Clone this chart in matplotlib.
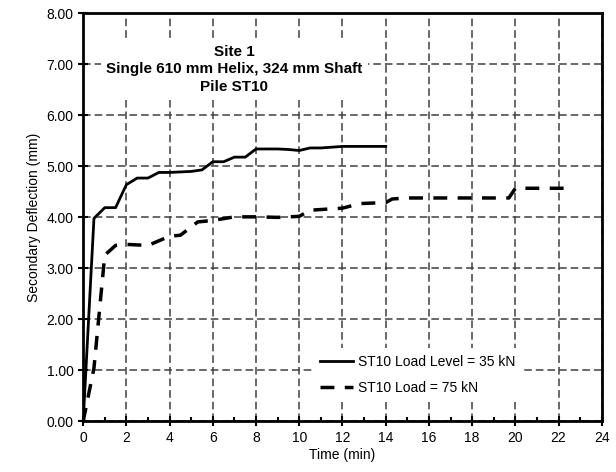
import matplotlib
matplotlib.use("Agg")
import matplotlib.pyplot as plt
from matplotlib.ticker import MultipleLocator, FormatStrFormatter

plt.rcParams['font.family'] = ['Liberation Sans', 'DejaVu Sans']

# solid series: ST10 load level = 35 kN
t35 = [0, 0.5, 1, 1.5, 2, 2.5, 3, 3.5, 4, 5, 5.5, 6, 6.5, 7, 7.5, 8, 9, 9.5, 10, 10.5, 11, 12, 13, 14]
d35 = [0, 3.98, 4.19, 4.19, 4.64, 4.77, 4.77, 4.88, 4.88, 4.90, 4.93, 5.09, 5.09, 5.18, 5.18,
       5.34, 5.34, 5.33, 5.31, 5.36, 5.36, 5.39, 5.39, 5.39]

# dashed series: ST10 load = 75 kN
t75 = [0, 0.5, 1, 1.5, 2, 3, 4, 4.5, 5.3, 6, 7, 8, 9, 10, 10.5, 12, 12.8, 14, 14.3, 15, 16, 17,
       18, 19, 19.7, 20, 21, 22, 22.7]
d75 = [0, 1.05, 3.26, 3.45, 3.47, 3.45, 3.63, 3.65, 3.91, 3.94, 4.01, 4.01, 4.0, 4.02, 4.14, 4.18,
       4.27, 4.29, 4.36, 4.38, 4.38, 4.38, 4.38, 4.38, 4.38, 4.57, 4.57, 4.57, 4.57]

fig = plt.figure(figsize=(6.16, 4.72), dpi=100)
ax = fig.add_axes([0.135, 0.107, 0.842, 0.865])

ax.plot(t35, d35, color='black', lw=2, label='ST10 Load Level = 35 kN', zorder=4)
ax.plot(t75, d75, color='black', lw=2.5, dashes=(4, 3), label='ST10 Load = 75 kN', zorder=4)

ax.set_xlim(0, 24)
ax.set_ylim(0, 8)
ax.xaxis.set_major_locator(MultipleLocator(2))
ax.xaxis.set_minor_locator(MultipleLocator(1))
ax.yaxis.set_major_locator(MultipleLocator(1))
ax.yaxis.set_major_formatter(FormatStrFormatter('%.2f'))
ax.tick_params(which='major', direction='inout', length=7, width=1.5, labelsize=10)
ax.tick_params(which='minor', direction='in', length=3, width=1.5)
ax.tick_params(axis='y', which='minor', left=False)

for s in ax.spines.values():
    s.set_linewidth(2)

ax.grid(True, which='major', color='#404040', lw=1.1, ls=(0, (5, 2.6)), zorder=1)
ax.set_axisbelow(True)

ax.set_xlabel('Time (min)', fontsize=10, labelpad=2)
ax.set_ylabel('Secondary Deflection (mm)', fontsize=10, labelpad=4)

ax.text(7.0, 6.9, 'Site 1\nSingle 610 mm Helix, 324 mm Shaft\nPile ST10', ha='center', va='center',
        fontsize=11, fontweight='bold', linespacing=1.35,
        bbox=dict(facecolor='white', edgecolor='none', pad=4), zorder=3)

leg = ax.legend(loc='lower left', bbox_to_anchor=(0.43, 0.03), fontsize=10, frameon=True,
                handlelength=2.4, handletextpad=0.3, labelspacing=0.9, borderpad=0.5)
leg.get_frame().set_edgecolor('none')
leg.get_frame().set_facecolor('white')
leg.get_frame().set_alpha(1)

fig.savefig('out.png', dpi=100)
